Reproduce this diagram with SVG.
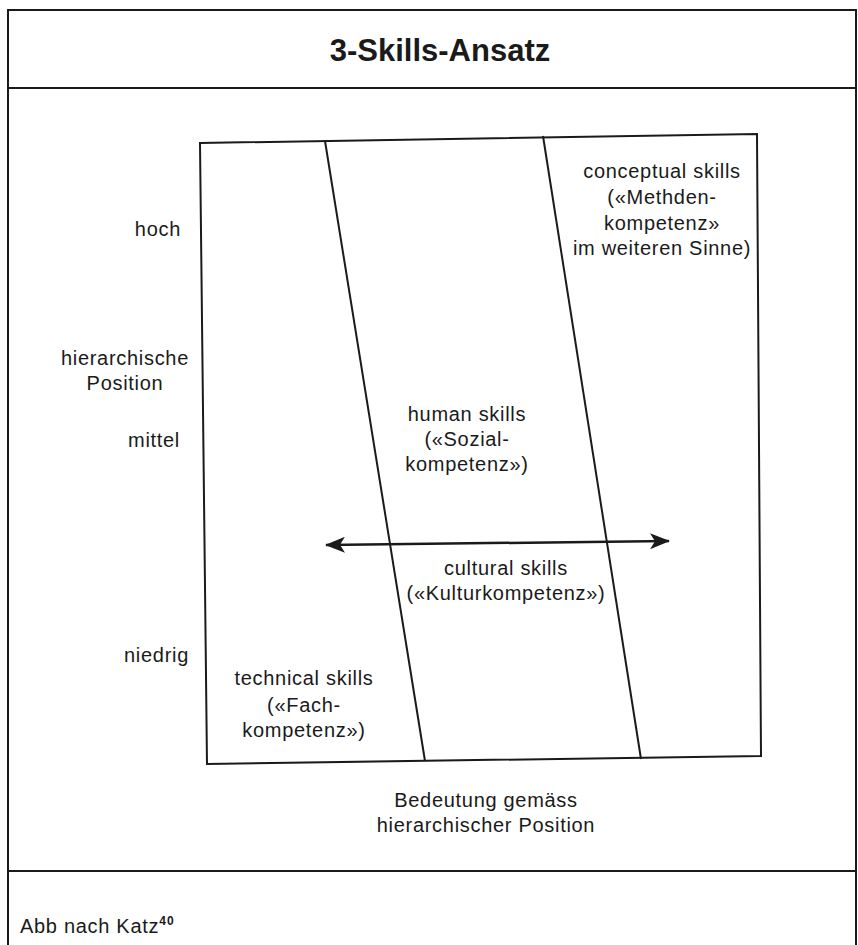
<svg xmlns="http://www.w3.org/2000/svg" width="858" height="945" viewBox="0 0 858 945">
  <style>
    .frame { fill: none; stroke: #1a1a1a; stroke-width: 2; }
    .line { fill: none; stroke: #1a1a1a; stroke-width: 2; }
    .arrow { fill: none; stroke: #1a1a1a; stroke-width: 2.5; }
    .t { font-family: "Liberation Sans", Arial, sans-serif; font-size: 20px; letter-spacing: 0.7px; fill: #1a1a1a; }
    .c { text-anchor: middle; }
    .r { text-anchor: end; }
    .title { font-family: "Liberation Sans", Arial, sans-serif; font-size: 31px; font-weight: bold; fill: #1a1a1a; text-anchor: middle; }
  </style>
  <defs>
    <marker id="ah" viewBox="0 0 20 16" refX="19" refY="8" markerWidth="20" markerHeight="16" orient="auto-start-reverse" markerUnits="userSpaceOnUse">
      <path d="M0,0 L20,8 L0,16 L5,8 Z" fill="#1a1a1a"/>
    </marker>
  </defs>
  <rect width="858" height="945" fill="#ffffff"/>

  <g id="frame">
    <path class="frame" d="M8,945 L8,10 L857,10 M8,88 L857,88 M8,871 L857,871 M856,10 L856,945"/>
  </g>

  <g id="title">
    <text class="title" x="440" y="61">3-Skills-Ansatz</text>
  </g>

  <g id="axis-labels">
    <text class="t r" x="181" y="236">hoch</text>
    <text class="t c" x="125" y="365">hierarchische</text>
    <text class="t c" x="125" y="390">Position</text>
    <text class="t r" x="180" y="447">mittel</text>
    <text class="t r" x="189" y="662">niedrig</text>
    <text class="t c" x="486" y="807">Bedeutung gemäss</text>
    <text class="t c" x="486" y="832">hierarchischer Position</text>
  </g>

  <g id="chart-box">
    <path class="line" d="M200,143 L757,134 L761,756 L207,764 Z"/>
  </g>

  <g id="connectors">
    <path class="line" d="M325,141 L425,761"/>
    <path class="line" d="M543,136 L641,759"/>
    <path class="arrow" d="M326,545 L669,541" marker-start="url(#ah)" marker-end="url(#ah)"/>
  </g>

  <g id="conceptual">
    <text class="t c" x="662" y="178">conceptual skills</text>
    <text class="t c" x="662" y="204">(«Methden-</text>
    <text class="t c" x="662" y="230">kompetenz»</text>
    <text class="t c" x="662" y="255">im weiteren Sinne)</text>
  </g>

  <g id="human">
    <text class="t c" x="467" y="421">human skills</text>
    <text class="t c" x="467" y="446">(«Sozial-</text>
    <text class="t c" x="467" y="471">kompetenz»)</text>
  </g>

  <g id="cultural">
    <text class="t c" x="506" y="575">cultural skills</text>
    <text class="t c" x="506" y="600">(«Kulturkompetenz»)</text>
  </g>

  <g id="technical">
    <text class="t c" x="304" y="685">technical skills</text>
    <text class="t c" x="304" y="712">(«Fach-</text>
    <text class="t c" x="304" y="737">kompetenz»)</text>
  </g>

  <g id="footer">
    <text class="t" x="20" y="933">Abb nach Katz<tspan font-size="12" font-weight="bold" dy="-8" letter-spacing="1">40</tspan></text>
  </g>
</svg>
